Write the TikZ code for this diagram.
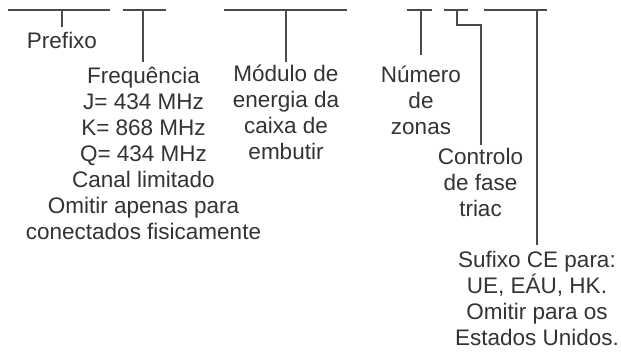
\documentclass[tikz,border=0pt]{standalone}
\usepackage{fontspec}
\setmainfont{Liberation Sans}
\definecolor{ink}{HTML}{333333}
\definecolor{rulec}{HTML}{4A4A4A}
\begin{document}
\begin{tikzpicture}[x=1pt,y=-1pt,
  bar/.style={draw=rulec, line width=1.2pt},
  lbl/.style={text=ink, font=\fontsize{22.5}{26}\selectfont, align=center, inner sep=0pt, anchor=base}]
\useasboundingbox (0,0) rectangle (621,351);
% labels (anchor = baseline of the last line)
\node[lbl] (pre) at (62,48) {Prefixo};
\node[lbl] (freq) at (143.5,239) {Frequência\\J= 434 MHz\\K= 868 MHz\\Q= 434 MHz\\Canal limitado\\Omitir apenas para\\conectados fisicamente};
\node[lbl] (mod) at (286,159) {Módulo de\\energia da\\caixa de\\embutir};
\node[lbl] (num) at (421,134) {Número\\de\\zonas};
\node[lbl] (ctl) at (480.5,216) {Controlo\\de fase\\triac};
\node[lbl] (suf) at (537,345) {Sufixo CE para:\\UE, EÁU, HK.\\Omitir para os\\Estados Unidos.};
% bars
\coordinate (b1l) at (8,10);   \coordinate (b1r) at (110,10);
\coordinate (b2l) at (123,10); \coordinate (b2r) at (166,10);
\coordinate (b3l) at (224,10); \coordinate (b3r) at (347,10);
\coordinate (b4l) at (407,10); \coordinate (b4r) at (432,10);
\coordinate (b5l) at (444,10); \coordinate (b5r) at (468,10);
\coordinate (b6l) at (484,10); \coordinate (b6r) at (547,10);
\foreach \i in {1,...,6} { \draw[bar] (b\i l) -- (b\i r); }
% ticks
\coordinate (t1) at (62,10);  \coordinate (e1) at (62,27);
\coordinate (t2) at (143,10); \coordinate (e2) at (143,62);
\coordinate (t3) at (286,10); \coordinate (e3) at (286,62);
\coordinate (t4) at (421,10); \coordinate (e4) at (421,55);
\coordinate (t5) at (457,10); \coordinate (k5) at (457,25); \coordinate (j5) at (481,25); \coordinate (e5) at (481,145);
\coordinate (t6) at (537,10); \coordinate (e6) at (537,245);
\draw[bar] (t1) -- (e1);
\draw[bar] (t2) -- (e2);
\draw[bar] (t3) -- (e3);
\draw[bar] (t4) -- (e4);
\draw[bar] (t5) -- (k5) -- (j5) -- (e5);
\draw[bar] (t6) -- (e6);
\end{tikzpicture}
\end{document}
